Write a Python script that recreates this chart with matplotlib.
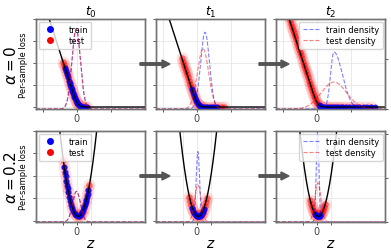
import numpy as np
import matplotlib
matplotlib.use('Agg')
import matplotlib.pyplot as plt
from matplotlib.patches import FancyArrow
from matplotlib.lines import Line2D

top_t0_train = [-0.35, -0.32, -0.29, -0.26, -0.23, -0.21, -0.19, -0.17, -0.15, -0.13, -0.11,
                -0.09, -0.07, -0.05, -0.03, -0.01, 0.01, 0.03, 0.05, 0.08, 0.11, 0.15, 0.20,
                0.25, 0.30]
top_t0_test = [-0.41, -0.38, -0.35, -0.32, -0.29, -0.26, -0.23, -0.20, -0.17, -0.14, -0.11,
               -0.08, -0.05, -0.02, 0.01, 0.04, 0.08, 0.12, 0.17, 0.23, 0.30]
top_t1_train = [-0.15, -0.12, -0.09, -0.06, -0.03, 0.00, 0.03, 0.06, 0.10, 0.14, 0.18, 0.22,
                0.26, 0.30, 0.35, 0.40, 0.46, 0.53, 0.60]
top_t1_test = [-0.44, -0.41, -0.38, -0.35, -0.32, -0.29, -0.26, -0.23, -0.20, -0.17, -0.14,
               -0.11, -0.08, -0.05, -0.02, 0.01, 0.05, 0.10, 0.16, 0.22, 0.30, 0.40, 0.50,
               0.60, 0.70, 0.80]
top_t2_train = [0.05, 0.08, 0.11, 0.15, 0.20, 0.26, 0.32, 0.38, 0.44, 0.50, 0.56, 0.63, 0.70,
                0.78, 0.86, 0.95, 1.05, 1.15, 1.25, 1.36, 1.48, 1.60, 1.72]
top_t2_test = [-0.86, -0.83, -0.80, -0.77, -0.74, -0.71, -0.68, -0.65, -0.62, -0.59, -0.56,
               -0.53, -0.50, -0.47, -0.44, -0.41, -0.38, -0.35, -0.32, -0.29, -0.26, -0.23,
               -0.20, -0.17, -0.14, -0.11, -0.08, -0.05, -0.02, 0.01, 0.05, 0.10, 0.16, 0.23,
               0.30, 0.38, 0.46, 0.55, 0.64, 0.74, 0.85, 0.97, 1.10, 1.24, 1.40, 1.58]

bot_t0_train = [-0.37, -0.35, -0.33, -0.31, -0.29, -0.27, -0.25, -0.22, -0.19, -0.16, -0.13,
                -0.10, -0.06, -0.02, 0.02, 0.06, 0.10, 0.13, 0.16, 0.19, 0.22, 0.24, 0.26,
                0.28, 0.30, 0.32, 0.34]
bot_t0_test = [-0.40, -0.37, -0.34, -0.31, -0.28, -0.25, -0.21, -0.17, -0.13, -0.09, -0.05,
               0.00, 0.05, 0.09, 0.13, 0.17, 0.21, 0.25, 0.28, 0.31, 0.34, 0.37]
bot_t1_train = [-0.13, -0.10, -0.07, -0.04, -0.02, -0.01, 0.01, 0.02, 0.04, 0.05, 0.07, 0.08,
                0.11, 0.14, 0.17, 0.20]
bot_t1_test = [-0.22, -0.19, -0.16, -0.13, -0.10, -0.07, -0.04, -0.01, 0.02, 0.05, 0.08, 0.11,
               0.14, 0.17, 0.20, 0.23, 0.26, 0.29]
bot_t2_train = [-0.06, -0.04, -0.02, 0.00, 0.01, 0.02, 0.03, 0.04, 0.06, 0.08, 0.10]
bot_t2_test = [-0.20, -0.17, -0.14, -0.11, -0.08, -0.05, -0.02, 0.01, 0.04, 0.07, 0.10, 0.13,
               0.16, 0.19, 0.22, 0.25]

train_sets = [[top_t0_train, top_t1_train, top_t2_train],
              [bot_t0_train, bot_t1_train, bot_t2_train]]
test_sets = [[top_t0_test, top_t1_test, top_t2_test],
             [bot_t0_test, bot_t1_test, bot_t2_test]]

# density curves: peak position, left / right spread
train_dens_mean = [[-0.02, 0.24, 0.50], [-0.01, 0.03, 0.02]]
train_dens_sl = [[0.125, 0.13, 0.10], [0.115, 0.05, 0.039]]
train_dens_sr = [[0.125, 0.13, 0.25], [0.115, 0.05, 0.039]]
test_dens_mean = [[-0.02, 0.18, 0.50], [-0.01, 0.03, 0.03]]
test_dens_sl = [[0.125, 0.165, 0.37], [0.115, 0.095, 0.09]]
test_dens_sr = [[0.125, 0.165, 0.37], [0.115, 0.095, 0.09]]

col_titles = ['$t_0$', '$t_1$', '$t_2$']
row_labels = [r'$\alpha = 0$', r'$\alpha = 0.2$']

# loss curve parameters (alpha = 0: smoothed hinge, alpha = 0.2: parabola)
hinge_slope, hinge_at, hinge_smooth = 4.8, 0.02, 0.05
reg_min, reg_curv, reg_center = 0.2, 13.0, 0.04

row_xticks = [[-1, 0, 1], [-0.4, 0, 0.4]]
row_loss_ylim = [(-0.09, 4.0), (-0.045, 4.0)]
row_dens_top = [3.6, 10.3]


def loss(z, row):
    z = np.asarray(z, dtype=float)
    if row == 0:
        return hinge_slope * hinge_smooth * np.logaddexp(0, -(z - hinge_at) / hinge_smooth)
    return reg_min + reg_curv * (z - reg_center) ** 2


def density(x, mu, sl, sr):
    sd = np.where(x < mu, sl, sr)
    return 2.0 / (np.sqrt(2 * np.pi) * (sl + sr)) * np.exp(-0.5 * ((x - mu) / sd) ** 2)


W, H = 391, 251
fig = plt.figure(figsize=(W / 100, H / 100), dpi=100)

lefts = [36, 156, 276]
pw = 109
row_tops = [20, 132]
row_heights = [90, 91]

grid = np.linspace(-1.2, 2.0, 800)

for r in range(2):
    for c in range(3):
        ax = fig.add_axes([lefts[c] / W, 1 - (row_tops[r] + row_heights[r]) / H,
                           pw / W, row_heights[r] / H])
        ztr = train_sets[r][c]
        zte = test_sets[r][c]
        # soft red halo + denser red core for test, then train on top
        ax.scatter(zte, loss(zte, r), s=75, color='red', alpha=0.12, lw=0, zorder=2)
        ax.scatter(zte, loss(zte, r), s=22, color='red', alpha=0.5, lw=0, zorder=2)
        ax.scatter(ztr, loss(ztr, r), s=18, color='blue', alpha=0.85, lw=0, zorder=3)
        ax.plot(grid, loss(grid, r), color='black', lw=1.0, zorder=4)
        ax.set_xlim(-1.2, 2.0)
        ax.set_ylim(*row_loss_ylim[r])
        ax.set_xticks(row_xticks[r])
        ax.set_xticklabels(['', '0', ''])
        ax.set_yticks([0, 1, 2, 3, 4])
        ax.set_yticklabels([])
        ax.grid(True, color='#e6e6e6', lw=0.6)
        ax.set_axisbelow(True)
        ax.tick_params(length=2, width=0.6, labelsize=7, pad=1, colors='0.25')
        if c > 0:
            ax.tick_params(axis='y', left=False)
        else:
            ax.set_ylabel('Per-sample loss', fontsize=6)
            ax.yaxis.set_label_coords(-0.075, 0.5)
            fig.text(11.5 / W, 1 - (row_tops[r] + row_heights[r] / 2) / H, row_labels[r],
                     rotation=90, fontsize=11, ha='center', va='center')
        if r == 0:
            ax.set_title(col_titles[c], fontsize=9, pad=3)
        else:
            ax.set_xlabel('$z$', fontsize=10, labelpad=0)

        ax2 = ax.twinx()
        ax2.plot(grid, density(grid, train_dens_mean[r][c], train_dens_sl[r][c],
                               train_dens_sr[r][c]),
                 '--', color='blue', alpha=0.5, lw=0.8, label='train density')
        ax2.plot(grid, density(grid, test_dens_mean[r][c], test_dens_sl[r][c],
                               test_dens_sr[r][c]),
                 '--', color='red', alpha=0.5, lw=0.8, label='test density')
        ax2.set_ylim(0, row_dens_top[r])
        if c < 2:
            ax2.set_yticks([])
        else:
            ax2.tick_params(axis='y', length=2, width=0.6, labelright=False, colors='0.25')
            ax2.legend(loc='upper right', fontsize=6, handlelength=2, borderpad=0.4,
                       labelspacing=0.3, borderaxespad=0.3)

        for a in (ax, ax2):
            for sp in a.spines.values():
                sp.set_color('0.45')
                sp.set_linewidth(1.0)

        if c == 0:
            handles = [Line2D([], [], ls='', marker='o', ms=4, color='blue'),
                       Line2D([], [], ls='', marker='o', ms=4, color='red')]
            ax.legend(handles, ['train', 'test'], loc='upper left', fontsize=6,
                      borderpad=0.4, labelspacing=0.3, borderaxespad=0.3, handletextpad=1.2)

# grey arrows between time steps
for r, yc in enumerate([65, 177]):
    for x0 in [140, 259]:
        fig.add_artist(FancyArrow(x0 / W, 1 - yc / H, 22 / W, 0, width=2.5 / H,
                                  head_width=8 / H, head_length=8 / W,
                                  length_includes_head=False, color='#555555',
                                  transform=fig.transFigure, zorder=10))

fig.savefig('out.png', dpi=100)
